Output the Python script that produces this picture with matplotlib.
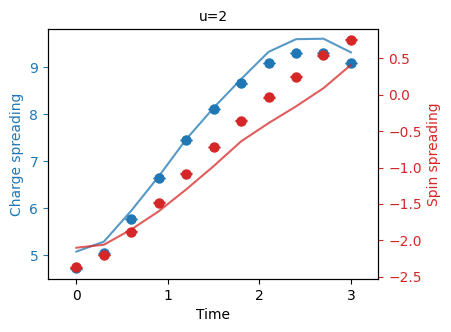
import matplotlib
matplotlib.use("Agg")
import matplotlib.pyplot as plt

# Time grid
time = [0.0, 0.3, 0.6, 0.9, 1.2, 1.5, 1.8, 2.1, 2.4, 2.7, 3.0]

# Charge spreading: measured points and model curve
charge_pts = [4.72, 5.04, 5.77, 6.64, 7.45, 8.12, 8.66, 9.09, 9.30, 9.30, 9.09]
charge_line = [5.08, 5.29, 5.95, 6.68, 7.47, 8.14, 8.75, 9.33, 9.60, 9.61, 9.32]

# Spin spreading: measured points and model curve
spin_pts = [-2.37, -2.20, -1.88, -1.48, -1.085, -0.72, -0.357, -0.037, 0.25, 0.54, 0.755]
spin_line = [-2.10, -2.06, -1.85, -1.60, -1.30, -0.98, -0.64, -0.39, -0.16, 0.09, 0.41]

err = [0.004] * len(time)

fig = plt.figure(figsize=(4.51, 3.32), dpi=100)
ax = fig.add_axes([0.1064, 0.1596, 0.7326, 0.7521])
ax2 = ax.twinx()

blue = "tab:blue"
red = "tab:red"

ax.plot(time, charge_line, color=blue, alpha=0.75, lw=1.5)
ax.errorbar(time, charge_pts, yerr=err, fmt="o", color=blue, ms=6.5, capsize=4.5, elinewidth=1)

ax2.plot(time, spin_line, color=red, alpha=0.75, lw=1.5)
ax2.errorbar(time, spin_pts, yerr=err, fmt="o", color=red, ms=6.5, capsize=4.5, elinewidth=1)

ax.set_xlim(-0.31, 3.30)
ax.set_ylim(4.496, 9.81)
ax2.set_ylim(-2.53, 0.898)

ax.set_xticks([0, 1, 2, 3])
ax.set_yticks([5, 6, 7, 8, 9])
ax2.set_yticks([-2.5, -2.0, -1.5, -1.0, -0.5, 0.0, 0.5])

ax.set_xlabel("Time")
ax.set_ylabel("Charge spreading", color=blue)
ax2.set_ylabel("Spin spreading", color=red)
ax.tick_params(axis="y", colors=blue)
ax2.tick_params(axis="y", colors=red)
ax.set_title("u=2", fontsize=10)

fig.savefig("out.png", dpi=100)
